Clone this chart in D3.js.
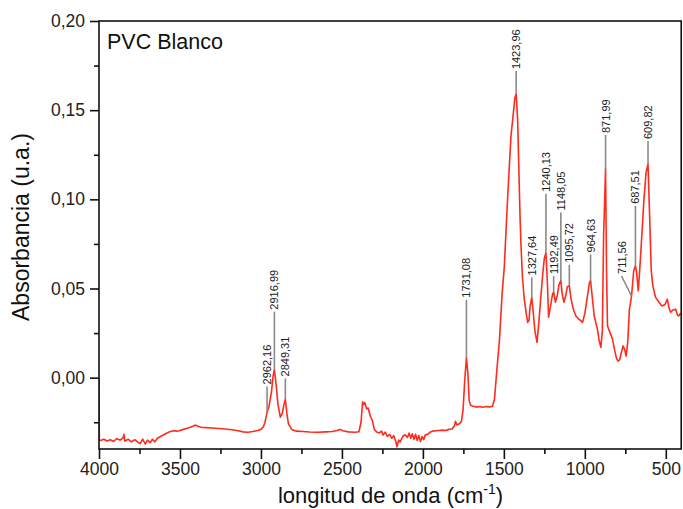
<!DOCTYPE html>
<html>
<head>
<meta charset="utf-8">
<script src="https://cdn.jsdelivr.net/npm/d3@7"></script>
<style>
  html, body { margin: 0; padding: 0; background: #fff; }
  svg { display: block; font-family: "Liberation Sans", Arial, sans-serif; }
</style>
</head>
<body>
<svg id="chart" width="683" height="509"></svg>
<script>
// FTIR spectrum of white PVC: wavenumber (cm-1) and absorbance (a.u.)
const wavenumber = [
  4000, 3998, 3990, 3970, 3950, 3930, 3910, 3890, 3870, 3852, 3846, 3840, 3820, 3800, 3780,
  3760, 3745, 3730, 3715, 3700, 3685, 3670, 3655, 3640, 3620, 3600, 3580, 3560, 3540, 3520,
  3500, 3480, 3460, 3440, 3420, 3404, 3390, 3370, 3340, 3300, 3260, 3220, 3180, 3140, 3110,
  3080, 3050, 3020, 3000, 2985, 2975, 2962.16, 2950, 2935, 2925, 2916.99, 2905, 2895, 2880,
  2868, 2858, 2849.31, 2840, 2830, 2810, 2780, 2740, 2700, 2650, 2600, 2560, 2530, 2512,
  2495, 2460, 2420, 2395, 2382, 2372, 2365, 2358, 2348, 2338, 2325, 2312, 2300, 2285, 2270,
  2255, 2245, 2232, 2220, 2205, 2192, 2180, 2168, 2160, 2150, 2140, 2125, 2110, 2095, 2085,
  2075, 2065, 2055, 2045, 2035, 2025, 2015, 2005, 1995, 1985, 1970, 1955, 1940, 1920, 1900,
  1880, 1860, 1840, 1820, 1805, 1799, 1790, 1775, 1762, 1752, 1742, 1731.08, 1722, 1714,
  1705, 1690, 1670, 1650, 1630, 1610, 1590, 1570, 1558, 1548, 1536, 1528, 1510, 1497, 1480,
  1466, 1456, 1445, 1432, 1423.96, 1415, 1409, 1400, 1394, 1385, 1374, 1362, 1353, 1345,
  1338, 1327.64, 1318, 1308, 1295, 1285, 1272, 1260, 1250, 1240.13, 1232, 1224, 1212, 1199,
  1192.49, 1182, 1170, 1160, 1148.05, 1140, 1129, 1118, 1108, 1095.72, 1085, 1070, 1055,
  1040, 1025, 1014, 1000, 985, 972, 964.63, 955, 942, 930, 922, 912, 901, 892, 884, 871.99,
  866, 860, 845, 829, 815, 805, 795, 785, 775, 764, 755, 745, 735, 725, 711.56, 698, 687.51,
  680, 670, 660, 648, 635, 622, 609.82, 600, 590, 580, 563, 540, 524, 505, 491, 480, 470,
  455, 439, 428, 419, 410, 401, 400
];
const absorbance = [
  0.0000, -0.0350, -0.0352, -0.0345, -0.0355, -0.0348, -0.0358, -0.0342, -0.0350, -0.0338, -0.0318, -0.0356, -0.0345, -0.0360, -0.0348,
  -0.0362, -0.0370, -0.0345, -0.0372, -0.0350, -0.0365, -0.0345, -0.0360, -0.0340, -0.0330, -0.0320, -0.0310, -0.0302, -0.0298, -0.0300,
  -0.0296, -0.0290, -0.0285, -0.0280, -0.0272, -0.0266, -0.0272, -0.0278, -0.0280, -0.0282, -0.0285, -0.0288, -0.0292, -0.0298, -0.0304,
  -0.0306, -0.0302, -0.0296, -0.0290, -0.0275, -0.0250, -0.0195, -0.0160, -0.0080, 0.0010, 0.0045, -0.0050, -0.0150, -0.0222,
  -0.0200, -0.0150, -0.0122, -0.0200, -0.0260, -0.0290, -0.0300, -0.0302, -0.0305, -0.0306, -0.0304, -0.0302, -0.0296, -0.0290,
  -0.0298, -0.0304, -0.0306, -0.0303, -0.0250, -0.0135, -0.0150, -0.0140, -0.0175, -0.0170, -0.0215, -0.0240, -0.0290, -0.0305, -0.0310,
  -0.0300, -0.0322, -0.0305, -0.0330, -0.0318, -0.0340, -0.0325, -0.0355, -0.0388, -0.0350, -0.0360, -0.0330, -0.0320, -0.0335, -0.0310,
  -0.0340, -0.0315, -0.0345, -0.0318, -0.0352, -0.0325, -0.0358, -0.0330, -0.0348, -0.0320, -0.0318, -0.0305, -0.0300, -0.0298, -0.0296,
  -0.0294, -0.0296, -0.0290, -0.0288, -0.0270, -0.0245, -0.0265, -0.0258, -0.0245, -0.0180, -0.0020, 0.0112, 0.0020, -0.0130,
  -0.0155, -0.0160, -0.0165, -0.0162, -0.0166, -0.0162, -0.0164, -0.0160, -0.0120, -0.0010, 0.0120, 0.0200, 0.0480, 0.0625, 0.0950,
  0.1190, 0.1357, 0.1450, 0.1570, 0.1590, 0.1450, 0.1227, 0.0900, 0.0738, 0.0560, 0.0440, 0.0360, 0.0310, 0.0320,
  0.0400, 0.0450, 0.0360, 0.0260, 0.0198, 0.0300, 0.0450, 0.0580, 0.0670, 0.0700, 0.0550, 0.0339, 0.0400, 0.0470,
  0.0480, 0.0423, 0.0460, 0.0520, 0.0545, 0.0470, 0.0423, 0.0460, 0.0510, 0.0515, 0.0440, 0.0380, 0.0346,
  0.0330, 0.0320, 0.0310, 0.0360, 0.0450, 0.0530, 0.0545, 0.0460, 0.0346, 0.0300, 0.0271, 0.0210, 0.0170, 0.0260, 0.0800, 0.1170,
  0.0600, 0.0290, 0.0254, 0.0215, 0.0150, 0.0110, 0.0093, 0.0100, 0.0140, 0.0178, 0.0160, 0.0121, 0.0200, 0.0380, 0.0458, 0.0600, 0.0627,
  0.0590, 0.0487, 0.0620, 0.0800, 0.1000, 0.1150, 0.1198, 0.0908, 0.0600, 0.0515, 0.0450, 0.0420, 0.0402, 0.0410, 0.0440, 0.0390, 0.0367,
  0.0380, 0.0384, 0.0350, 0.0346, 0.0360, 0.0357, 0.0035
];

// Annotated band positions (cm-1)
const peakLabels = [2962.16, 2916.99, 2849.31, 1731.08, 1423.96, 1327.64, 1240.13, 1192.49,
  1148.05, 1095.72, 964.63, 871.99, 711.56, 687.51, 609.82];

const xTicks = [4000, 3500, 3000, 2500, 2000, 1500, 1000, 500];
const yTicks = [0.00, 0.05, 0.10, 0.15, 0.20];

// Leader length (px) between each band and its label, and horizontal label offset
const leaderLen = [26, 58, 21, 58, 23, 20, 59, 16, 68, 21, 26, 34, 20, 60, 23];
const leaderShift = [0, 0, 0, 0, 0, 0, 0, 0, 0, 0, 0, 0, -10, 0, 0];

const svg = d3.select("#chart");
const plotL = 99, plotR = 682, plotT = 21, plotB = 449;

const x = d3.scaleLinear().domain([4000, 400]).range([plotL, plotR]);
const y = d3.scaleLinear().domain([-0.04, 0.20]).range([plotB, plotT]);

const locale = d3.formatLocale({ decimal: ",", thousands: ".", grouping: [3], currency: ["", ""] });
const fy = locale.format(".2f");

const spectrum = wavenumber.map((w, i) => [w, absorbance[i]]);

// clip region for the trace
svg.append("defs").append("clipPath").attr("id", "plot")
  .append("rect").attr("x", plotL).attr("y", plotT).attr("width", plotR - plotL).attr("height", plotB - plotT);

// spectrum line
svg.append("path")
  .datum(spectrum)
  .attr("clip-path", "url(#plot)")
  .attr("fill", "none")
  .attr("stroke", "#ff2b1c")
  .attr("stroke-width", 1.6)
  .attr("stroke-linejoin", "round")
  .attr("d", d3.line().x(d => x(d[0])).y(d => y(d[1])));

// band annotations
const valueAt = w => absorbance[wavenumber.indexOf(w)];
const ann = svg.append("g");
peakLabels.forEach((w, i) => {
  const px = x(w), py = y(valueAt(w));
  const tx = px + leaderShift[i], ty = py - leaderLen[i];
  ann.append("line")
    .attr("x1", px).attr("y1", py).attr("x2", tx).attr("y2", ty)
    .attr("stroke", "#8a8a8a").attr("stroke-width", 1.6);
  ann.append("text")
    .attr("transform", `translate(${tx},${ty - 2}) rotate(-90)`)
    .attr("dy", "0.36em")
    .attr("font-size", 11)
    .attr("fill", "#222")
    .text(fy(w));
});

// axes
const xAxis = d3.axisBottom(x).tickValues(xTicks).tickFormat(d3.format("d")).tickSize(10).tickPadding(4);
const xMinor = d3.axisBottom(x).tickValues(d3.range(3750, 400, -500)).tickFormat("").tickSize(5);
const yAxis = d3.axisLeft(y).tickValues(yTicks).tickFormat(fy).tickSize(9).tickPadding(5);
const yMinor = d3.axisLeft(y).tickValues([-0.025, 0.025, 0.075, 0.125, 0.175]).tickFormat("").tickSize(5);

function styleAxis(g) {
  g.select(".domain").remove();
  g.selectAll("line").attr("stroke", "#111").attr("stroke-width", 1.6);
  g.selectAll("text").attr("fill", "#222").attr("font-size", 17.5)
    .attr("font-family", "'Liberation Sans', Arial, sans-serif");
}

svg.append("g").attr("transform", `translate(0,${plotB})`).call(xAxis).call(styleAxis);
svg.append("g").attr("transform", `translate(0,${plotB})`).call(xMinor).call(styleAxis);
svg.append("g").attr("transform", `translate(${plotL},0)`).call(yAxis).call(styleAxis);
svg.append("g").attr("transform", `translate(${plotL},0)`).call(yMinor).call(styleAxis);

// frame
svg.append("rect")
  .attr("x", plotL).attr("y", plotT).attr("width", plotR - plotL - 0.8).attr("height", plotB - plotT)
  .attr("fill", "none").attr("stroke", "#111").attr("stroke-width", 1.6);

// sample name
svg.append("text").attr("x", 107).attr("y", 49).attr("font-size", 21.5).attr("fill", "#111").text("PVC Blanco");

// axis titles
svg.append("text")
  .attr("transform", `translate(29,${(plotT + plotB) / 2 - 8}) rotate(-90)`)
  .attr("text-anchor", "middle").attr("font-size", 23).attr("fill", "#111")
  .text("Absorbancia (u.a.)");

const xt = svg.append("text")
  .attr("x", (plotL + plotR) / 2).attr("y", 503)
  .attr("text-anchor", "middle").attr("font-size", 22).attr("fill", "#111");
xt.append("tspan").text("longitud de onda (cm");
xt.append("tspan").attr("font-size", 14).attr("dy", -9).text("-1");
xt.append("tspan").attr("dy", 9).text(")");
</script>
</body>
</html>
